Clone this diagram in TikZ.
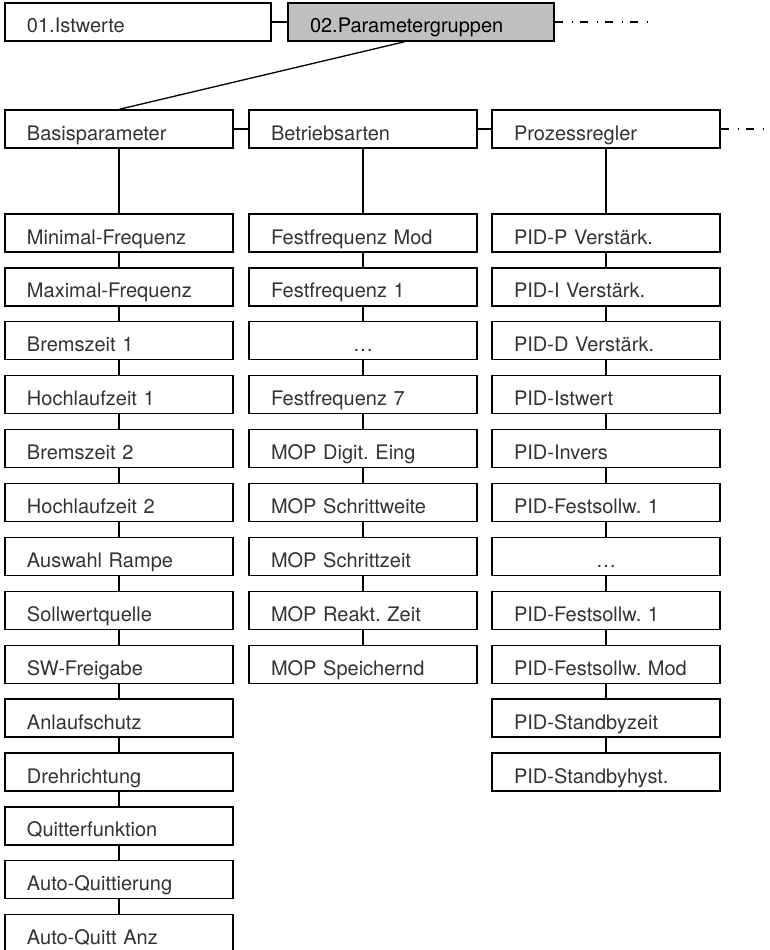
\documentclass[tikz,border=0pt]{standalone}
\usepackage{fontspec}
\setmainfont{TeX Gyre Heros}
\usepackage{tikz}
\usetikzlibrary{positioning}
\frenchspacing

\begin{document}
\begin{tikzpicture}[
  x=1pt, y=-1pt,
  font=\fontsize{20}{24}\selectfont,
  entry/.style={draw, line width=1.3pt, fill=white, text=black!80, align=left, minimum width=228pt, minimum height=38pt, text width=184pt, inner xsep=22pt, inner ysep=0pt, text height=22pt, text depth=0pt},
  headbox/.style={entry, minimum width=266pt, text width=222pt},
  gap/.style={entry, align=center},
  link/.style={line width=1.3pt},
  more/.style={line width=1.3pt, dash pattern=on 8pt off 9pt on 1.5pt off 6.5pt},
]
\useasboundingbox (0,0) rectangle (770,950);

% --- Menu ---
\node[headbox] (ist) at (138,22) {01.Istwerte};
\node[headbox, fill=black!25, text=black] (param) at (421,22) {02.Parametergruppen};
\coordinate (paramEnd) at (650,22);

% --- Groups ---
\node[entry] (basis) at (119,129) {Basisparameter};
\node[entry] (betrieb) at (363,129) {Betriebsarten};
\node[entry] (prozess) at (606,129) {Prozessregler};
\coordinate (prozessEnd) at (770,129);

% --- Basisparameter ---
\node[entry] (b1) at (119,233) {Minimal-Frequenz};
\node[entry] (b2) at (119,286.9) {Maximal-Frequenz};
\node[entry] (b3) at (119,340.8) {Bremszeit 1};
\node[entry] (b4) at (119,394.7) {Hochlaufzeit 1};
\node[entry] (b5) at (119,448.6) {Bremszeit 2};
\node[entry] (b6) at (119,502.5) {Hochlaufzeit 2};
\node[entry] (b7) at (119,556.4) {Auswahl Rampe};
\node[entry] (b8) at (119,610.3) {Sollwertquelle};
\node[entry] (b9) at (119,664.2) {SW-Freigabe};
\node[entry] (b10) at (119,718.1) {Anlaufschutz};
\node[entry] (b11) at (119,772) {Drehrichtung};
\node[entry] (b12) at (119,825.9) {Quitterfunktion};
\node[entry] (b13) at (119,879.8) {Auto-Quittierung};
\node[entry] (b14) at (119,933.7) {Auto-Quitt Anz};

% --- Betriebsarten ---
\node[entry] (m1) at (363,233) {Festfrequenz Mod};
\node[entry] (m2) at (363,286.9) {Festfrequenz 1};
\node[gap] (m3) at (363,340.8) {…};
\node[entry] (m4) at (363,394.7) {Festfrequenz 7};
\node[entry] (m5) at (363,448.6) {MOP Digit. Eing};
\node[entry] (m6) at (363,502.5) {MOP Schrittweite};
\node[entry] (m7) at (363,556.4) {MOP Schrittzeit};
\node[entry] (m8) at (363,610.3) {MOP Reakt. Zeit};
\node[entry] (m9) at (363,664.2) {MOP Speichernd};

% --- Prozessregler ---
\node[entry] (p1) at (606,233) {PID-P Verstärk.};
\node[entry] (p2) at (606,286.9) {PID-I Verstärk.};
\node[entry] (p3) at (606,340.8) {PID-D Verstärk.};
\node[entry] (p4) at (606,394.7) {PID-Istwert};
\node[entry] (p5) at (606,448.6) {PID-Invers};
\node[entry] (p6) at (606,502.5) {PID-Festsollw. 1};
\node[gap] (p7) at (606,556.4) {…};
\node[entry] (p8) at (606,610.3) {PID-Festsollw. 1};
\node[entry] (p9) at (606,664.2) {PID-Festsollw. Mod};
\node[entry] (p10) at (606,718.1) {PID-Standbyzeit};
\node[entry] (p11) at (606,772) {PID-Standbyhyst.};

% --- Edges ---
\draw[link] (ist) -- (param);
\draw[more] (param.east) -- (paramEnd);
\draw[link] ([xshift=-16pt]param.south) -- (basis.north);
\draw[link] (basis) -- (betrieb);
\draw[link] (betrieb) -- (prozess);
\draw[more] (prozess.east) -- (prozessEnd);

\draw[link] (basis) -- (b1) (b1) -- (b2) (b2) -- (b3) (b3) -- (b4) (b4) -- (b5) (b5) -- (b6) (b6) -- (b7)
  (b7) -- (b8) (b8) -- (b9) (b9) -- (b10) (b10) -- (b11) (b11) -- (b12) (b12) -- (b13) (b13) -- (b14);
\draw[link] (betrieb) -- (m1) (m1) -- (m2) (m2) -- (m3) (m3) -- (m4) (m4) -- (m5) (m5) -- (m6) (m6) -- (m7)
  (m7) -- (m8) (m8) -- (m9);
\draw[link] (prozess) -- (p1) (p1) -- (p2) (p2) -- (p3) (p3) -- (p4) (p4) -- (p5) (p5) -- (p6) (p6) -- (p7)
  (p7) -- (p8) (p8) -- (p9) (p9) -- (p10) (p10) -- (p11);
\end{tikzpicture}
\end{document}
